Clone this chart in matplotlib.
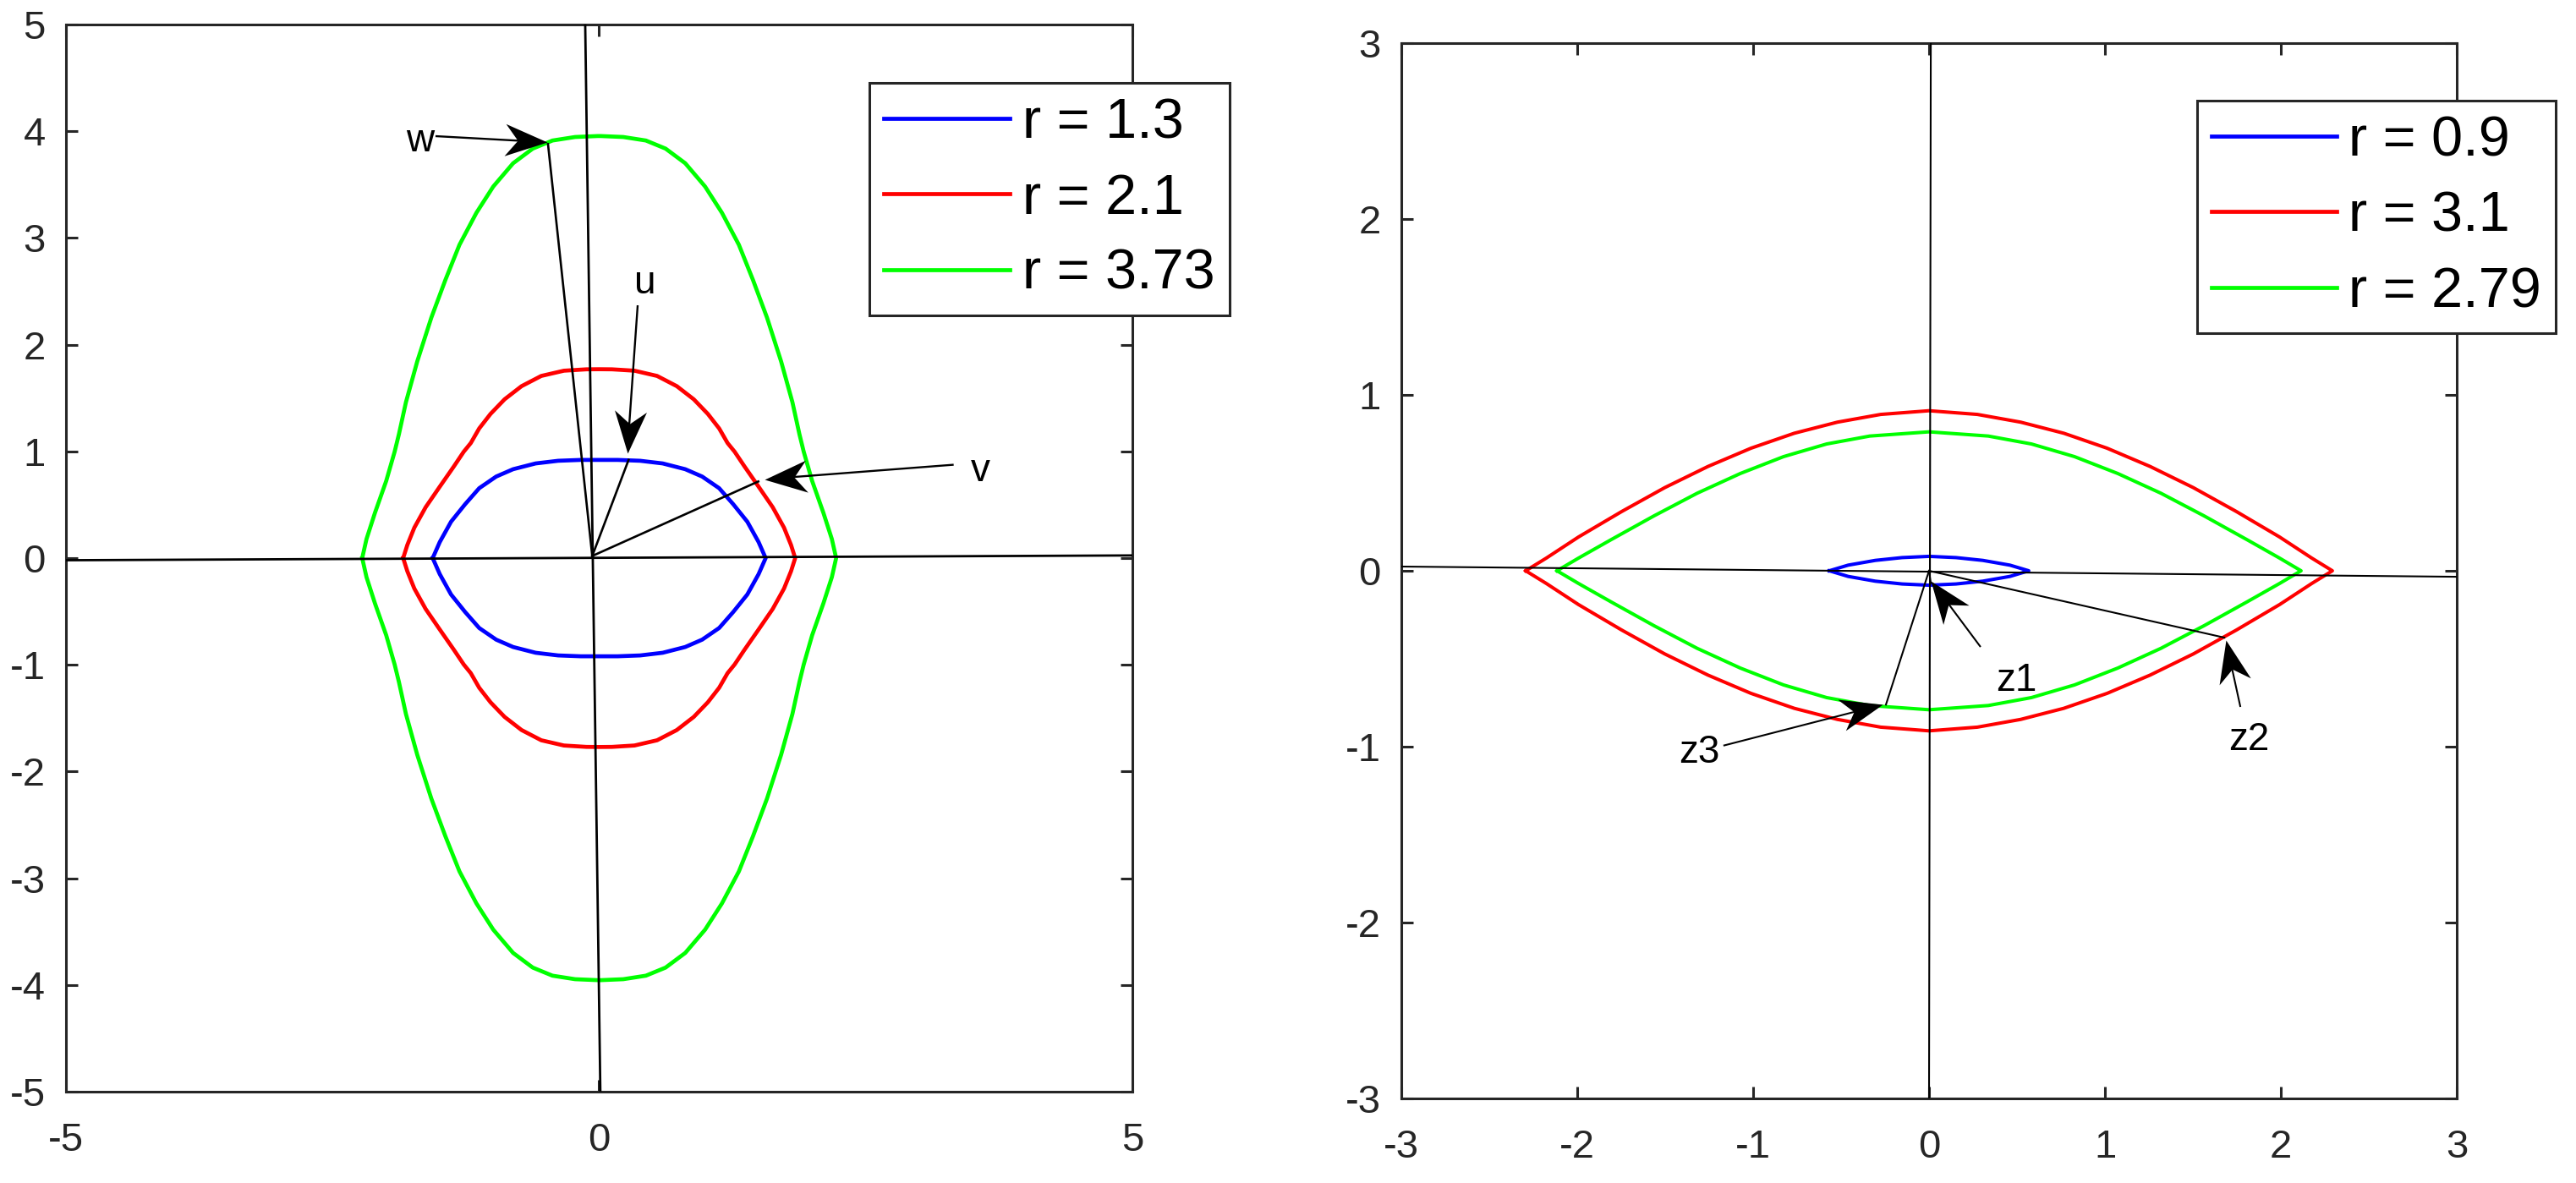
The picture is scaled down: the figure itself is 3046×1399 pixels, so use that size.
import numpy as np
import matplotlib
matplotlib.use('Agg')
import matplotlib.pyplot as plt
from matplotlib.path import Path
from matplotlib.markers import MarkerStyle
from matplotlib.transforms import Affine2D
from matplotlib.lines import Line2D

plt.rcParams['font.family'] = ['Liberation Sans', 'DejaVu Sans']
plt.rcParams['axes.unicode_minus'] = False

# ---------------- data (upper-left quarter of each closed curve, tip -> top) -------------
left_labels = ['r = 1.3', 'r = 2.1', 'r = 3.73']
left_colors = ['#0000ff', '#ff0000', '#00ff00']
left_blue_qx = [-1.561, -1.495, -1.389, -1.257, -1.125, -0.966, -0.807, -0.596, -0.385, -0.173, 0.0]
left_blue_qy = [0.0, 0.150, 0.341, 0.505, 0.655, 0.764, 0.833, 0.887, 0.912, 0.920, 0.920]
left_red_qx = [-1.838, -1.799, -1.733, -1.627, -1.495, -1.362, -1.270, -1.204, -1.125, -1.019,
               -0.887, -0.728, -0.543, -0.331, -0.120, 0.0]
left_red_qy = [0.0, 0.123, 0.286, 0.477, 0.669, 0.860, 0.997, 1.078, 1.215, 1.351,
               1.488, 1.611, 1.707, 1.756, 1.769, 1.770]
left_green_qx = [-2.222, -2.182, -2.103, -1.997, -1.918, -1.878, -1.812, -1.706, -1.574, -1.442,
                 -1.310, -1.151, -0.993, -0.807, -0.623, -0.438, -0.226, -0.014, 0.0]
left_green_qy = [0.0, 0.178, 0.423, 0.723, 0.997, 1.160, 1.461, 1.843, 2.253, 2.607,
                 2.936, 3.236, 3.482, 3.700, 3.837, 3.913, 3.946, 3.955, 3.955]

right_labels = ['r = 0.9', 'r = 3.1', 'r = 2.79']
right_colors = ['#0000ff', '#ff0000', '#00ff00']
right_blue_qx = [-0.567, -0.460, -0.306, -0.153, 0.0]
right_blue_qy = [0.0, 0.032, 0.059, 0.075, 0.082]
right_red_qx = [-2.293, -2.176, -1.993, -1.747, -1.502, -1.257, -1.012, -0.766, -0.521, -0.275, 0.0]
right_red_qy = [0.0, 0.072, 0.192, 0.337, 0.473, 0.593, 0.697, 0.782, 0.845, 0.889, 0.910]
right_green_qx = [-2.115, -1.993, -1.809, -1.563, -1.318, -1.073, -0.827, -0.582, -0.337, 0.0]
right_green_qy = [0.0, 0.072, 0.176, 0.3125, 0.441, 0.553, 0.649, 0.721, 0.766, 0.790]

# reference (hand-drawn) lines
left_hline_x, left_hline_y = [-5, 5], [-0.02, 0.025]
left_vline_x, left_vline_y = [-0.131, 0.011], [5, -5]
right_hline_x, right_hline_y = [-3, 3], [0.024, -0.034]
right_vline_x, right_vline_y = [0.01, 0.0], [3, -3]

# vectors from the origin
left_vec_origin = (-0.065, 0.02)
left_vec_ends = [(-0.48, 3.88), (0.276, 0.921), (1.492, 0.718)]
right_vec_origin = (0.0, 0.0)
right_vec_ends = [(0.01, -0.07), (1.679, -0.38), (-0.245, -0.761)]

# text arrows: label, text position, arrow tail, arrow tip
left_notes = [('w', (-1.681, 3.905), (-1.535, 3.954), (-0.490, 3.897)),
              ('u', (0.431, 2.573), (0.361, 2.369), (0.263, 0.982)),
              ('v', (3.574, 0.819), (3.324, 0.875), (1.550, 0.739))]
right_notes = [('z1', (0.498, -0.624), (0.293, -0.433), (0.012, -0.056)),
               ('z2', (1.817, -0.960), (1.770, -0.774), (1.687, -0.393)),
               ('z3', (-1.308, -1.032), (-1.169, -0.994), (-0.264, -0.761))]

left_xticks = [-5, 0, 5]
left_yticks = [-5, -4, -3, -2, -1, 0, 1, 2, 3, 4, 5]
right_ticks = [-3, -2, -1, 0, 1, 2, 3]

# ---------------- figure ----------------
W, H, DPI = 3046, 1399, 100
fig = plt.figure(figsize=(W / DPI, H / DPI), dpi=DPI)
ax1 = fig.add_axes([78 / W, 1 - 1291 / H, 1261 / W, 1262 / H])
ax2 = fig.add_axes([1657 / W, 1 - 1299 / H, 1248 / W, 1248 / H])

AX_COLOR = '#262626'


def closed(qx, qy):
    qx = np.asarray(qx, float)
    qy = np.asarray(qy, float)
    ux = np.concatenate([qx, -qx[::-1][1:]])
    uy = np.concatenate([qy, qy[::-1][1:]])
    lx = ux[::-1][1:]
    ly = -uy[::-1][1:]
    return np.concatenate([ux, lx]), np.concatenate([uy, ly])


def style(ax, lim, xticks, yticks):
    ax.set_xlim(-lim, lim)
    ax.set_ylim(-lim, lim)
    ax.set_xticks(xticks)
    ax.set_yticks(yticks)
    for s in ax.spines.values():
        s.set_linewidth(2.2)
        s.set_color(AX_COLOR)
    ax.tick_params(direction='in', length=10, width=2.2, color=AX_COLOR,
                   labelcolor=AX_COLOR, labelsize=34, top=True, right=True)
    ax.tick_params(axis='x', pad=26)
    ax.tick_params(axis='y', pad=17.5)


style(ax1, 5, left_xticks, left_yticks)
style(ax2, 3, right_ticks, right_ticks)

HEAD_L = 36.0  # points
HEAD_HW = 0.38
NOTCH = 0.7
head_path = Path([(0, 0), (-1, HEAD_HW), (-NOTCH, 0), (-1, -HEAD_HW), (0, 0)],
                 [Path.MOVETO, Path.LINETO, Path.LINETO, Path.LINETO, Path.CLOSEPOLY])


def text_arrow(ax, label, tpos, tail, tip, lw):
    T = ax.transData
    p0 = T.transform(tail)
    p1 = T.transform(tip)
    d = p1 - p0
    ang = np.arctan2(d[1], d[0])
    unit = d / np.hypot(d[0], d[1])
    L_px = HEAD_L * fig.dpi / 72.0
    se = T.inverted().transform(p1 - unit * L_px * NOTCH * 0.95)
    ax.plot([tail[0], se[0]], [tail[1], se[1]], color='k', lw=lw, solid_capstyle='butt', zorder=4)
    m = MarkerStyle(head_path, transform=Affine2D().rotate(ang))
    ax.plot([tip[0]], [tip[1]], marker=m, markersize=2 * HEAD_L, color='k',
            markeredgewidth=0, linestyle='none', zorder=4)
    ax.text(tpos[0], tpos[1], label, fontsize=33, ha='center', va='center', color='k', zorder=4)


# ---------------- left panel ----------------
handles = []
for qx, qy, c, lab in zip([left_blue_qx, left_red_qx, left_green_qx],
                          [left_blue_qy, left_red_qy, left_green_qy], left_colors, left_labels):
    x, y = closed(qx, qy)
    h, = ax1.plot(x, y, color=c, lw=3.4, label=lab, solid_joinstyle='round')
    handles.append(h)

ax1.plot(left_hline_x, left_hline_y, color='k', lw=2.0, zorder=3)
ax1.plot(left_vline_x, left_vline_y, color='k', lw=2.0, zorder=3)
for e in left_vec_ends:
    ax1.plot([left_vec_origin[0], e[0]], [left_vec_origin[1], e[1]], color='k', lw=1.9, zorder=3)
for lab, tp, tl, ti in left_notes:
    text_arrow(ax1, lab, tp, tl, ti, 1.7)

leg1 = ax1.legend(handles=handles, loc='upper left', bbox_to_anchor=(1028 / W, 1 - 98 / H),
                  bbox_transform=fig.transFigure, borderaxespad=0, fontsize=48,
                  handlelength=2.23, handletextpad=0.22, borderpad=0.26, labelspacing=0.41,
                  fancybox=False, framealpha=1, edgecolor=AX_COLOR)
leg1.get_frame().set_linewidth(2.2)
leg1.set_zorder(10)

# ---------------- right panel ----------------
handles2 = []
for qx, qy, c, lab in zip([right_blue_qx, right_red_qx, right_green_qx],
                          [right_blue_qy, right_red_qy, right_green_qy], right_colors, right_labels):
    x, y = closed(qx, qy)
    h, = ax2.plot(x, y, color=c, lw=2.9, label=lab, solid_joinstyle='round')
    handles2.append(h)

ax2.plot(right_hline_x, right_hline_y, color='k', lw=1.5, zorder=3)
ax2.plot(right_vline_x, right_vline_y, color='k', lw=1.5, zorder=3)
for e in right_vec_ends:
    ax2.plot([right_vec_origin[0], e[0]], [right_vec_origin[1], e[1]], color='k', lw=1.5, zorder=3)
for lab, tp, tl, ti in right_notes:
    text_arrow(ax2, lab, tp, tl, ti, 1.5)

leg2 = ax2.legend(handles=[Line2D([], [], color=c, lw=3.4) for c in right_colors],
                  labels=right_labels, loc='upper left', bbox_to_anchor=(2598 / W, 1 - 119 / H),
                  bbox_transform=fig.transFigure, borderaxespad=0, fontsize=48,
                  handlelength=2.22, handletextpad=0.2, borderpad=0.26, labelspacing=0.41,
                  fancybox=False, framealpha=1, edgecolor=AX_COLOR)
leg2.get_frame().set_linewidth(2.2)
leg2.set_zorder(10)

fig.savefig('out.png', dpi=DPI, facecolor='white')
